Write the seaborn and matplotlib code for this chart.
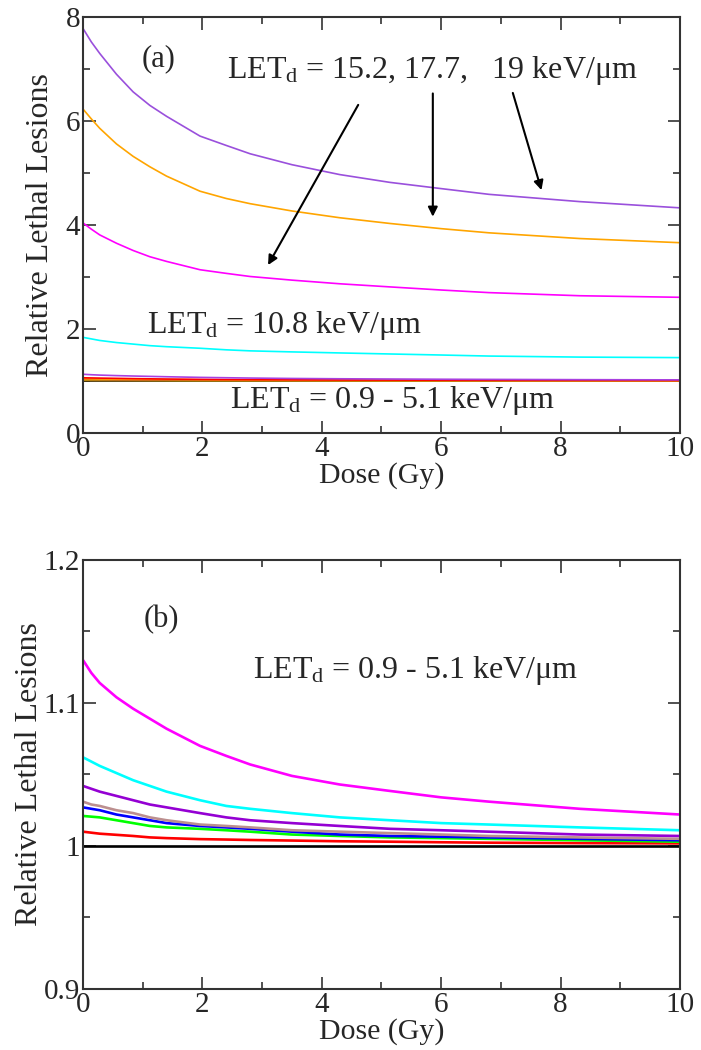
import numpy as np
import pandas as pd
import seaborn as sns
import matplotlib
matplotlib.use('Agg')
import matplotlib.pyplot as plt
from matplotlib.ticker import MultipleLocator, FuncFormatter

# dose grid (Gy)
dose = [0, 0.14, 0.28, 0.56, 0.84, 1.12, 1.4, 1.96, 2.4, 2.8, 3.5, 4.3, 5.14, 6.0, 6.8, 8.32, 10]

# high LET curves (panel a only)
let_19 = [7.78, 7.52, 7.30, 6.90, 6.56, 6.30, 6.09, 5.71, 5.53, 5.37, 5.16, 4.97, 4.82, 4.70, 4.59, 4.45, 4.33]
let_17_7 = [6.23, 6.04, 5.86, 5.56, 5.32, 5.12, 4.94, 4.65, 4.51, 4.41, 4.27, 4.14, 4.03, 3.93, 3.85, 3.74, 3.66]
let_15_2 = [4.04, 3.92, 3.81, 3.65, 3.51, 3.39, 3.30, 3.14, 3.07, 3.01, 2.94, 2.87, 2.81, 2.75, 2.70, 2.64, 2.61]
let_10_8 = [1.84, 1.81, 1.78, 1.74, 1.71, 1.68, 1.66, 1.63, 1.60, 1.58, 1.56, 1.54, 1.52, 1.50, 1.48, 1.46, 1.45]

# low LET curves (0.9 - 5.1 keV/um), shown in both panels
low_1 = [1.130, 1.121, 1.114, 1.104, 1.096, 1.089, 1.082, 1.070, 1.063, 1.057, 1.049, 1.043, 1.0385, 1.034, 1.031, 1.026, 1.022]
low_2 = [1.062, 1.059, 1.056, 1.051, 1.046, 1.042, 1.038, 1.032, 1.028, 1.026, 1.023, 1.020, 1.018, 1.016, 1.015, 1.013, 1.011]
low_3 = [1.042, 1.040, 1.038, 1.035, 1.032, 1.029, 1.027, 1.023, 1.020, 1.018, 1.016, 1.014, 1.012, 1.011, 1.010, 1.008, 1.007]
low_4 = [1.031, 1.029, 1.028, 1.025, 1.023, 1.020, 1.018, 1.015, 1.014, 1.013, 1.011, 1.010, 1.009, 1.008, 1.007, 1.006, 1.005]
low_5 = [1.027, 1.026, 1.025, 1.022, 1.020, 1.018, 1.016, 1.014, 1.013, 1.012, 1.010, 1.008, 1.007, 1.0065, 1.006, 1.005, 1.004]
low_6 = [1.021, 1.0205, 1.020, 1.018, 1.016, 1.014, 1.013, 1.012, 1.011, 1.010, 1.008, 1.007, 1.006, 1.0055, 1.005, 1.004, 1.003]
low_7 = [1.010, 1.0093, 1.0086, 1.0078, 1.007, 1.006, 1.0055, 1.0048, 1.0045, 1.0042, 1.0038, 1.0033, 1.003, 1.0026, 1.0023, 1.002, 1.0018]
low_8 = [1.0] * 17

low_names = ['low_8', 'low_7', 'low_6', 'low_5', 'low_4', 'low_3', 'low_2', 'low_1']
low_vals = [low_8, low_7, low_6, low_5, low_4, low_3, low_2, low_1]
high_names = ['10.8', '15.2', '17.7', '19']
high_vals = [let_10_8, let_15_2, let_17_7, let_19]

sns.set_style('ticks')
plt.rcParams['font.family'] = ['Liberation Serif', 'DejaVu Serif']
plt.rcParams['mathtext.fontset'] = 'custom'
plt.rcParams['mathtext.rm'] = 'Liberation Serif'
plt.rcParams['mathtext.it'] = 'Liberation Serif:italic'

def long_df(names, vals):
    rows = []
    for n, v in zip(names, vals):
        for d, y in zip(dose, v):
            rows.append((n, d, y))
    return pd.DataFrame(rows, columns=['curve', 'dose', 'rll'])

pal_a = {'low_8': 'black', 'low_7': '#b8860b', 'low_6': '#808000', 'low_5': '#ffd700',
         'low_4': '#a52a2a', 'low_3': '#ffa500', 'low_2': '#ff0000', 'low_1': '#a840e0',
         '10.8': '#00ffff', '15.2': '#ff00ff', '17.7': '#ffa500', '19': '#9a50dc'}
pal_b = {'low_8': 'black', 'low_7': '#ff0000', 'low_6': '#00ff00', 'low_5': '#0000ff',
         'low_4': '#bc8f8f', 'low_3': '#9400d3', 'low_2': '#00ffff', 'low_1': '#ff00ff'}

fig = plt.figure(figsize=(7.01, 10.5), dpi=100)
ax1 = fig.add_axes([0.1184, 0.5876, 0.8516, 0.3962])
ax2 = fig.add_axes([0.1184, 0.0581, 0.8516, 0.4086])

df_a = long_df(low_names + high_names, low_vals + high_vals)
sns.lineplot(data=df_a, x='dose', y='rll', hue='curve', palette=pal_a,
             linewidth=1.2, legend=False, ax=ax1, sort=False)
df_b = long_df(low_names, low_vals)
sns.lineplot(data=df_b, x='dose', y='rll', hue='curve', palette=pal_b,
             linewidth=1.9, legend=False, ax=ax2, sort=False)

fmt = FuncFormatter(lambda v, p: f'{v:g}')
for ax, ylim, ymaj, ymin, lx in [(ax1, (0, 8), 2, 1, -0.047), (ax2, (0.9, 1.2), 0.1, 0.05, -0.066)]:
    ax.set_xlim(0, 10)
    ax.set_ylim(*ylim)
    ax.xaxis.set_major_locator(MultipleLocator(2))
    ax.xaxis.set_minor_locator(MultipleLocator(1))
    ax.yaxis.set_major_locator(MultipleLocator(ymaj))
    ax.yaxis.set_minor_locator(MultipleLocator(ymin))
    ax.yaxis.set_major_formatter(fmt)
    ax.xaxis.set_major_formatter(fmt)
    ax.tick_params(which='both', direction='in', top=True, right=True, width=1.2,
                   labelsize=21, pad=2, color='#333333')
    ax.tick_params(which='major', length=9)
    ax.tick_params(which='minor', length=5)
    for s in ax.spines.values():
        s.set_linewidth(1.5)
        s.set_color('#333333')
    ax.set_xlabel('Dose (Gy)', fontsize=21.5, labelpad=0)
    ax.set_ylabel('Relative Lethal Lesions', fontsize=23)
    ax.yaxis.set_label_coords(lx, 0.5)

txt = dict(fontsize=23, va='center', ha='left')
ax1.text(1.26, 7.2, '(a)', fontsize=22, va='center', ha='center')
ax1.text(2.41, 6.98, r'LET$_{\rm d}$ = 15.2, 17.7,   19 keV/μm', **txt)
ax1.text(1.07, 2.06, r'LET$_{\rm d}$ = 10.8 keV/μm', **txt)
ax1.text(2.46, 0.63, r'LET$_{\rm d}$ = 0.9 - 5.1 keV/μm', **txt)
arrow = dict(arrowstyle='-|>', color='black', lw=1.5, mutation_scale=14, shrinkA=0, shrinkB=0)
ax1.annotate('', xy=(3.10, 3.23), xytext=(4.61, 6.31), arrowprops=arrow)
ax1.annotate('', xy=(5.86, 4.16), xytext=(5.86, 6.53), arrowprops=arrow)
ax1.annotate('', xy=(7.68, 4.67), xytext=(7.20, 6.54), arrowprops=arrow)

ax2.text(1.32, 1.158, '(b)', fontsize=22, va='center', ha='center')
ax2.text(2.85, 1.123, r'LET$_{\rm d}$ = 0.9 - 5.1 keV/μm', **txt)

fig.savefig('out.png', dpi=100)
